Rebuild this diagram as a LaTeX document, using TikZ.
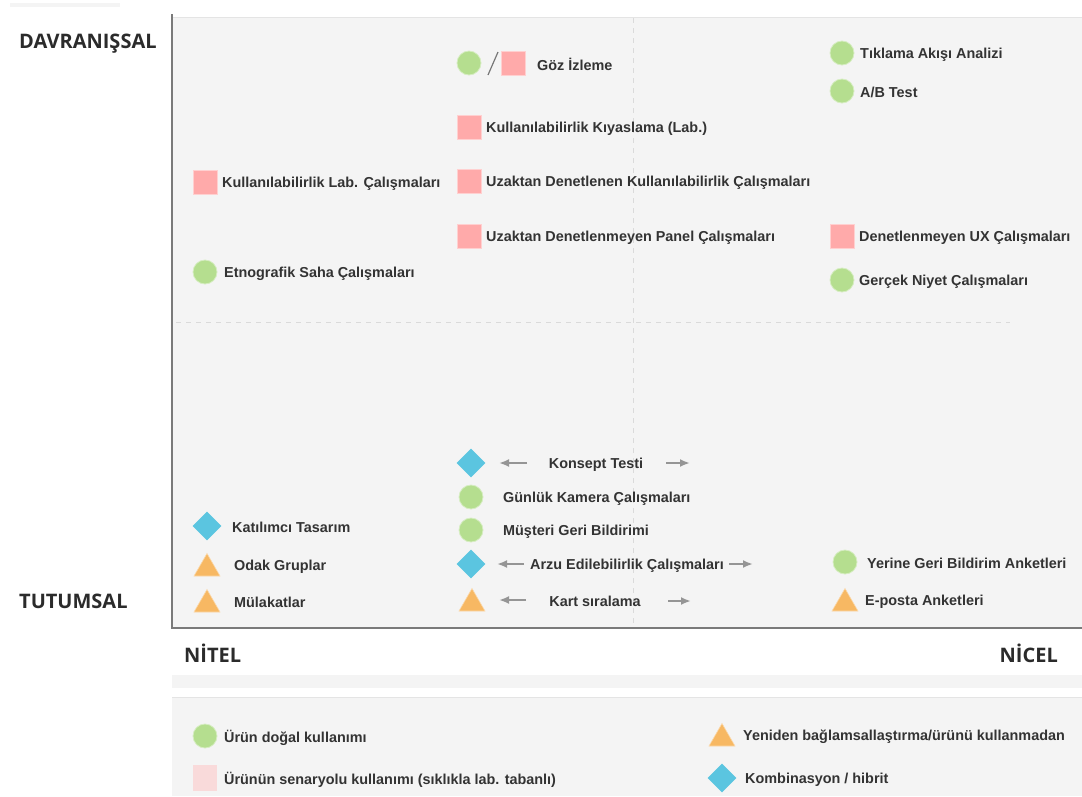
\documentclass[tikz,border=0pt]{standalone}
\usepackage{fontspec}
\setmainfont{Liberation Sans}
\newfontfamily\axisfont{Open Sans}
\usetikzlibrary{shapes.geometric,arrows.meta}
\definecolor{cpanel}{HTML}{F4F4F4}
\definecolor{cedge}{HTML}{E4E4E4}
\definecolor{caxis}{HTML}{7A7A7A}
\definecolor{cdash}{HTML}{DADADA}
\definecolor{cgreen}{HTML}{B5DE8F}
\definecolor{cpink}{HTML}{FFAAAA}
\definecolor{cpale}{HTML}{F9DADA}
\definecolor{cblue}{HTML}{5BC5E0}
\definecolor{corange}{HTML}{F7B863}
\definecolor{ctext}{HTML}{333333}
\definecolor{carrow}{HTML}{959595}
\tikzset{
  dot/.style={circle, fill=cgreen, draw=cgreen!55!white, line width=0.8pt, minimum size=24pt, inner sep=0},
  sq/.style={rectangle, fill=cpink, draw=cpink!55!white, line width=0.8pt, minimum size=24pt, inner sep=0},
  palesq/.style={rectangle, fill=cpale, minimum width=24pt, minimum height=26pt, inner sep=0},
  dia/.style={diamond, fill=cblue, minimum width=29pt, minimum height=29pt, inner sep=0},
  tri/.style={regular polygon, regular polygon sides=3, fill=corange, draw=corange!55!white, line width=0.6pt, minimum size=30pt, inner sep=0},
  lab/.style={anchor=west, inner sep=0, yshift=-1.5pt, text=ctext, font=\fontsize{14.4}{16}\selectfont\bfseries},
  axislab/.style={inner sep=0, text=ctext!85!black, font=\axisfont\fontsize{20}{22}\selectfont\bfseries},
  arr/.style={draw=carrow, line width=2pt, -{Latex[length=10pt,width=8pt]}},
}
\begin{document}
\begin{tikzpicture}[x=1pt,y=-1pt]
\useasboundingbox (0,0) rectangle (1082,796);
% faint strip at the top left
\fill[cpanel] (10,3) rectangle (120,7);
% chart area
\fill[cpanel] (172,17) rectangle (1082,627);
\draw[cedge, line width=1pt] (172,17.5) -- (1082,17.5);
\draw[cdash, line width=1pt, dash pattern=on 5pt off 5pt] (176,322) -- (1010,322);
\draw[cdash, line width=1pt, dash pattern=on 5pt off 5pt] (633,18) -- (633,626);
\draw[caxis, line width=2pt] (172,14) -- (172,628) -- (1082,628);
% strip and legend panel below the axis
\fill[cpanel] (172,675) rectangle (1082,688);
\fill[cpanel] (172,697) rectangle (1082,796);
\draw[cedge, line width=1pt] (172,697.5) -- (1082,697.5);

% axis labels
\node[axislab, anchor=west] (davr) at (19,44) {DAVRANIŞSAL};
\node[axislab, anchor=west] (tutum) at (19,601) {TUTUMSAL};
\node[axislab, anchor=west] (nitel) at (184,653) {NİTEL};
\node[axislab, anchor=east] (nicel) at (1058,653) {NİCEL};

% upper left quadrant
\node[dot] (gozc) at (469,63) {};
\node[sq] (gozs) at (513,63) {};
\draw[carrow!80!black, line width=1.2pt] (488,75) -- (498,52);
\node[lab] (gozt) at (537,63) {Göz İzleme};
\node[sq] (kiyass) at (469,127) {};
\node[lab] (kiyast) at (486,127) {Kullanılabilirlik Kıyaslama (Lab.)};
\node[sq] (uzdens) at (469,181) {};
\node[lab] (uzdent) at (486,181) {Uzaktan Denetlenen Kullanılabilirlik Çalışmaları};
\node[sq] (uzpans) at (469,236) {};
\node[lab] (uzpant) at (486,236) {Uzaktan Denetlenmeyen Panel Çalışmaları};
\node[sq] (labs) at (205,182) {};
\node[lab] (labt) at (222,182) {Kullanılabilirlik Lab. Çalışmaları};
\node[dot] (etnoc) at (205,272) {};
\node[lab] (etnot) at (224,272) {Etnografik Saha Çalışmaları};

% upper right quadrant
\node[dot] (tikc) at (842,53) {};
\node[lab] (tikt) at (860,53) {Tıklama Akışı Analizi};
\node[dot] (abc) at (842,91) {};
\node[lab] (abt) at (860,91) {A/B Test};
\node[sq] (uxs) at (842,236) {};
\node[lab] (uxt) at (859,236) {Denetlenmeyen UX Çalışmaları};
\node[dot] (niyc) at (842,280) {};
\node[lab] (niyt) at (859,280) {Gerçek Niyet Çalışmaları};

% lower half
\node[dia] (kond) at (471,463) {};
\node[lab, anchor=center] (kont) at (596,463) {Konsept Testi};
\coordinate (konl1) at (527,463); \coordinate (konl2) at (499,463);
\coordinate (konr1) at (666,463); \coordinate (konr2) at (690,463);
\draw[arr] (konl1) -- (konl2);
\draw[arr] (konr1) -- (konr2);
\node[dot] (gunc) at (471,497) {};
\node[lab] (gunt) at (503,497) {Günlük Kamera Çalışmaları};
\node[dot] (musc) at (471,530) {};
\node[lab] (must) at (503,530) {Müşteri Geri Bildirimi};
\node[dia] (arzd) at (471,564) {};
\node[lab, anchor=center] (arzt) at (627,564) {Arzu Edilebilirlik Çalışmaları};
\coordinate (arzl1) at (524,564); \coordinate (arzl2) at (497,564);
\coordinate (arzr1) at (729,564); \coordinate (arzr2) at (753,564);
\draw[arr] (arzl1) -- (arzl2);
\draw[arr] (arzr1) -- (arzr2);
\node[tri] (kartt) at (472,603.5) {};
\node[lab, anchor=center] (kartl) at (595,600) {Kart sıralama};
\coordinate (kartl1) at (526,600); \coordinate (kartl2) at (499,600);
\coordinate (kartr1) at (668,601); \coordinate (kartr2) at (691,601);
\draw[arr] (kartl1) -- (kartl2);
\draw[arr] (kartr1) -- (kartr2);

\node[dia] (katd) at (207,526) {};
\node[lab] (katt) at (232,526) {Katılımcı Tasarım};
\node[tri] (odakt) at (207,568.5) {};
\node[lab] (odakl) at (234,565) {Odak Gruplar};
\node[tri] (mult) at (207,604.5) {};
\node[lab] (mull) at (234,601) {Mülakatlar};

\node[dot] (yerc) at (845,562) {};
\node[lab] (yert) at (867,562) {Yerine Geri Bildirim Anketleri};
\node[tri] (epot) at (845,603.5) {};
\node[lab] (epol) at (865,600) {E-posta Anketleri};

% legend
\node[dot] (lgc) at (205,736) {};
\node[lab] (lgct) at (224,736) {Ürün doğal kullanımı};
\node[palesq] (lgs) at (205,778) {};
\node[lab] (lgst) at (224,778) {Ürünün senaryolu kullanımı (sıklıkla lab. tabanlı)};
\node[tri] (lgt) at (722,738.5) {};
\node[lab] (lgtt) at (743,735) {Yeniden bağlamsallaştırma/ürünü kullanmadan};
\node[dia] (lgd) at (722,778) {};
\node[lab] (lgdt) at (745,778) {Kombinasyon / hibrit};
\end{tikzpicture}
\end{document}
